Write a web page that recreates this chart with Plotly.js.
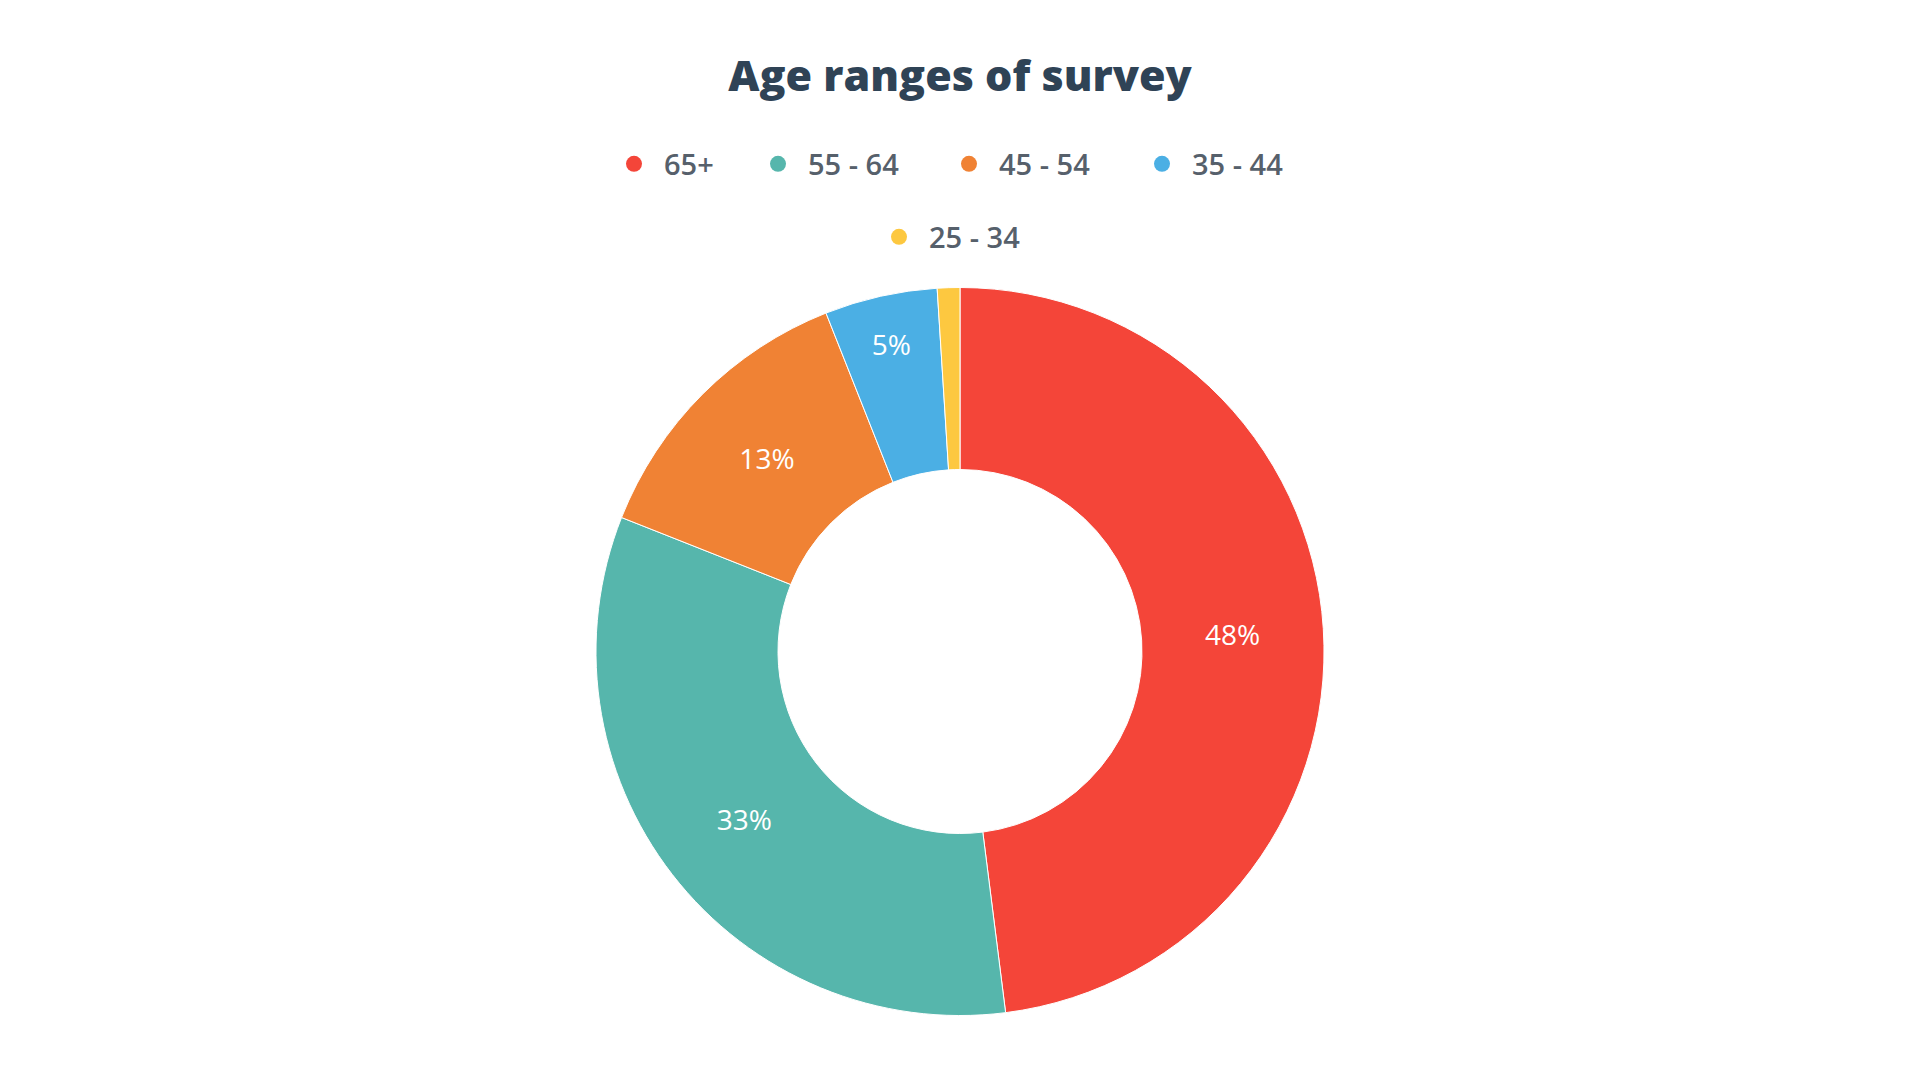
<!DOCTYPE html>
<html>
<head>
<meta charset="utf-8">
<script src="https://cdn.plot.ly/plotly-3.0.1.min.js"></script>
<style>html,body{margin:0;padding:0;background:#fff;}#chart{width:1920px;height:1080px;}</style>
</head>
<body>
<div id="chart"></div>
<script>
const categories = ["65+", "55 - 64", "45 - 54", "35 - 44", "25 - 34"];
const shares = [48, 33, 13, 5, 1];
const colors = ["#F44539", "#56B6AC", "#F08234", "#4BAFE4", "#FDC840"];
const sliceLabels = ["%{percent:.0%}", "%{percent:.0%}", "%{percent:.0%}", "%{percent:.0%}", ""];

const font = "'Open Sans', Lato, sans-serif";

// legend entry placement (marker centre in px, row centre in px)
const legendMarkerX = [634, 778, 969, 1162, 899];
const legendRowY = [164, 164, 164, 164, 237];

const traces = [{
  type: "pie",
  labels: categories,
  values: shares,
  sort: false,
  direction: "clockwise",
  rotation: 0,
  hole: 0.5,
  marker: {colors: colors, line: {color: "#ffffff", width: 1}},
  texttemplate: sliceLabels,
  textinfo: "percent",
  textposition: "inside",
  insidetextorientation: "horizontal",
  textfont: {color: "#ffffff", size: 28, family: font},
  showlegend: false,
  domain: {x: [0, 1], y: [0.0597, 0.7338]},
  hoverinfo: "label+percent"
}];

const W = 1920, H = 1080;
const layout = {
  width: W,
  height: H,
  margin: {l: 0, r: 0, t: 0, b: 0},
  paper_bgcolor: "#ffffff",
  plot_bgcolor: "#ffffff",
  title: {
    text: "Age ranges of survey",
    font: {family: font, size: 43, weight: 800, color: "#2f4356"},
    x: 0.5, xref: "paper", xanchor: "center",
    y: 1 - 76 / H, yref: "paper", yanchor: "middle"
  },
  xaxis: {visible: false},
  yaxis: {visible: false},
  showlegend: true
};

categories.forEach((c, i) => {
  const key = i === 0 ? "legend" : "legend" + (i + 1);
  traces.push({
    type: "scatter",
    mode: "markers",
    x: [null], y: [null],
    name: c,
    marker: {color: colors[i], size: 16, symbol: "circle"},
    showlegend: true,
    legend: key,
    hoverinfo: "skip"
  });
  layout[key] = {
    orientation: "h",
    xanchor: "left",
    yanchor: "middle",
    x: (legendMarkerX[i] - 30) / W,
    y: 1 - legendRowY[i] / H,
    itemwidth: 50,
    font: {family: font, size: 29, weight: 600, color: "#56606b"},
    bgcolor: "rgba(0,0,0,0)"
  };
});

Plotly.newPlot("chart", traces, layout, {displayModeBar: false, staticPlot: true});
</script>
</body>
</html>
